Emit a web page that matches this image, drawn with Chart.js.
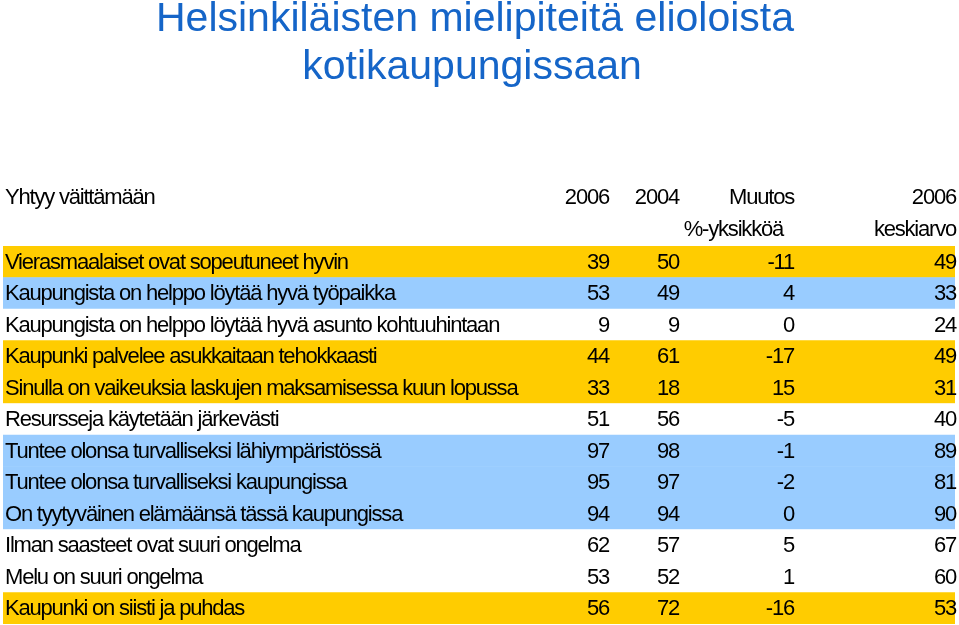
<!DOCTYPE html>
<html>
<head>
<meta charset="utf-8">
<script src="https://cdn.jsdelivr.net/npm/chart.js@4/dist/chart.umd.min.js"></script>
<style>
  body { margin: 0; background: #fff; }
  canvas { display: block; }
</style>
</head>
<body>
<canvas id="tableChart" width="959" height="625"></canvas>
<script>
// --- Data ---
const statements = [
  "Vierasmaalaiset ovat sopeutuneet hyvin",
  "Kaupungista on helppo löytää hyvä työpaikka",
  "Kaupungista on helppo löytää hyvä asunto kohtuuhintaan",
  "Kaupunki palvelee asukkaitaan tehokkaasti",
  "Sinulla on vaikeuksia laskujen maksamisessa kuun lopussa",
  "Resursseja käytetään järkevästi",
  "Tuntee olonsa turvalliseksi lähiympäristössä",
  "Tuntee olonsa turvalliseksi kaupungissa",
  "On tyytyväinen elämäänsä tässä kaupungissa",
  "Ilman saasteet ovat suuri ongelma",
  "Melu on suuri ongelma",
  "Kaupunki on siisti ja puhdas"
];
const values2006 = [39, 53, 9, 44, 33, 51, 97, 95, 94, 62, 53, 56];
const values2004 = [50, 49, 9, 61, 18, 56, 98, 97, 94, 57, 52, 72];
const changePts = [-11, 4, 0, -17, 15, -5, -1, -2, 0, 5, 1, -16];
const average2006 = [49, 33, 24, 49, 31, 40, 89, 81, 90, 67, 60, 53];

const titleLines = ["Helsinkiläisten mielipiteitä elioloista", "kotikaupungissaan"];

// --- Styles ---
const YELLOW = "#FFCC00";
const BLUE = "#99CCFF";
const WHITE = "#FFFFFF";
const rowColors = [YELLOW, BLUE, WHITE, YELLOW, YELLOW, WHITE, BLUE, BLUE, BLUE, WHITE, WHITE, YELLOW];
const cellFont = "22px 'Liberation Sans', Arial, sans-serif";

// --- Text plugin: title, header row and cell texts ---
const tableText = {
  id: "tableText",
  afterDatasetsDraw(chart) {
    const ctx = chart.ctx;
    const yScale = chart.scales.y;
    ctx.save();

    // title
    ctx.fillStyle = "#1565C8";
    ctx.font = "41px 'Liberation Sans', Arial, sans-serif";
    ctx.textAlign = "center";
    ctx.textBaseline = "middle";
    ctx.letterSpacing = "0px";
    ctx.fillText(titleLines[0], 475, 20);
    ctx.fillText(titleLines[1], 472, 68);

    // header
    ctx.fillStyle = "#000";
    ctx.font = cellFont;
    ctx.letterSpacing = "-1.2px";
    ctx.textAlign = "left";
    ctx.fillText("Yhtyy väittämään", 5, 198);
    ctx.textAlign = "right";
    ctx.fillText("2006", 609, 198);
    ctx.fillText("2004", 679, 198);
    ctx.fillText("Muutos", 794, 198);
    ctx.fillText("%-yksikköä", 783, 230);
    ctx.fillText("2006", 956, 198);
    ctx.fillText("keskiarvo", 956, 230);

    // rows
    statements.forEach((s, i) => {
      const y = yScale.getPixelForValue(i) + 1;
      ctx.textAlign = "left";
      ctx.fillText(s, 5, y);
      ctx.textAlign = "right";
      ctx.fillText(String(values2006[i]), 609, y);
      ctx.fillText(String(values2004[i]), 679, y);
      ctx.fillText(String(changePts[i]), 794, y);
      ctx.fillText(String(average2006[i]), 956, y);
    });
    ctx.restore();
  }
};

// --- Chart: full width bars act as row backgrounds ---
new Chart(document.getElementById("tableChart").getContext("2d"), {
  type: "bar",
  data: {
    labels: statements,
    datasets: [{
      data: statements.map(() => 1),
      backgroundColor: rowColors,
      borderWidth: 0,
      barPercentage: 1,
      categoryPercentage: 1
    }]
  },
  options: {
    indexAxis: "y",
    responsive: false,
    animation: false,
    layout: { padding: { left: 3, right: 4, top: 246, bottom: 1 } },
    scales: {
      x: { display: false, min: 0, max: 1 },
      y: { display: false }
    },
    plugins: {
      legend: { display: false },
      tooltip: { enabled: false }
    }
  },
  plugins: [tableText]
});
</script>
</body>
</html>
